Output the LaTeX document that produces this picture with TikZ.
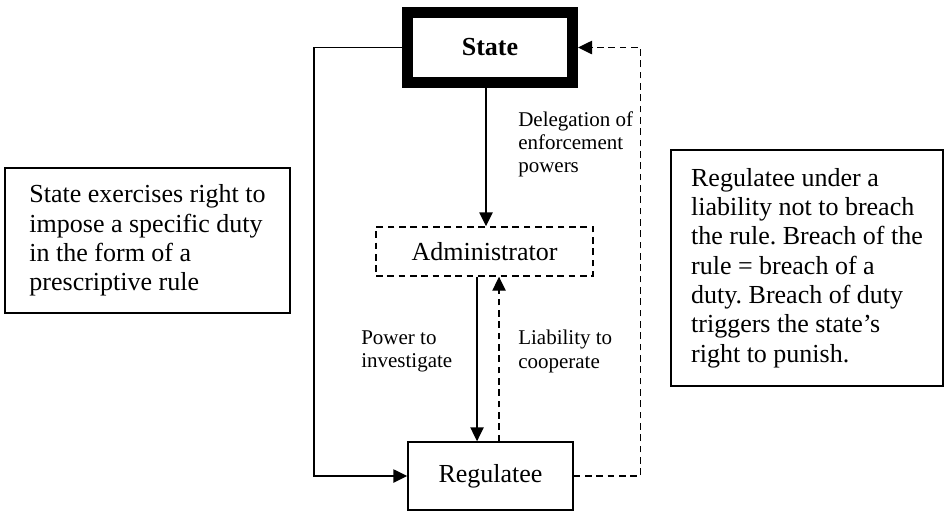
\documentclass[tikz,border=0pt]{standalone}
\usepackage{fontspec}
\setmainfont{Liberation Serif}
\frenchspacing
\usetikzlibrary{arrows.meta}
\usetikzlibrary{positioning}
\tikzset{
    border/.style = {
        draw, rectangle, line width=1.1pt, inner sep=0pt, font=\fontsize{19.5}{22}\selectfont
    },
    stateborder/.style = {
        border, line width=8.25pt, font=\fontsize{19.5}{22}\selectfont\bfseries,
        minimum width=123.75pt, minimum height=52.5pt
    },
    noteborder/.style = {
        border, align=left, inner xsep=8pt
    },
    label/.style = {
        align=left, inner sep=0pt, anchor=north west, font=\fontsize{15.75}{17.6}\selectfont
    },
    link/.style = {line width=1.1pt, -{Triangle[length=10.5pt, width=10pt]}},
    weak/.style = {dash pattern=on 5pt off 3.5pt}
}

\begin{document}
\begin{tikzpicture}[x=0.75pt, y=-0.75pt]
        \useasboundingbox (0, 0) rectangle (947, 512);
        % Place the blocks
        \node [stateborder] (state) at (490, 47.5) {State};
        \node [border, weak, minimum width=162.75pt, minimum height=36.75pt] (admin) at (484.5, 251.5) {Administrator};
        \node [border, minimum width=123.75pt, minimum height=51pt] (regulatee) at (490.5, 476) {Regulatee};
        \node [noteborder, minimum width=213.75pt, minimum height=108.75pt] (rulenote) at (147.5, 240.5)
            {State exercises right to\\impose a specific duty\\in the form of a\\prescriptive rule};
        \node [noteborder, minimum width=204pt, minimum height=177pt] (dutynote) at (807, 268)
            {Regulatee under a\\liability not to breach\\the rule. Breach of the\\rule = breach of a\\duty. Breach of duty\\triggers the state’s\\right to punish.};

        % Labels on the links
        \node [label] (delegation) at (518, 111) {Delegation of\\enforcement\\powers};
        \node [label] (power) at (361, 330) {Power to\\investigate};
        \node [label] (liability) at (518, 330) {Liability to\\cooperate};

        % Links
        \draw [link] ([xshift=-3pt] state.south) -- ([xshift=-3pt] state.south |- admin.north);
        \draw [link] ([xshift=-5.6pt] admin.south) -- ([xshift=-5.6pt] admin.south |- regulatee.north);
        \draw [link, weak] ([xshift=10.9pt] admin.south |- regulatee.north) -- ([xshift=10.9pt] admin.south);
        \draw [link] (state.west) -- ++(-88, 0) |- (regulatee.west);
        \draw [link, weak] (regulatee.east) -- ++(67, 0) |- (state.east);
\end{tikzpicture}
\end{document}
